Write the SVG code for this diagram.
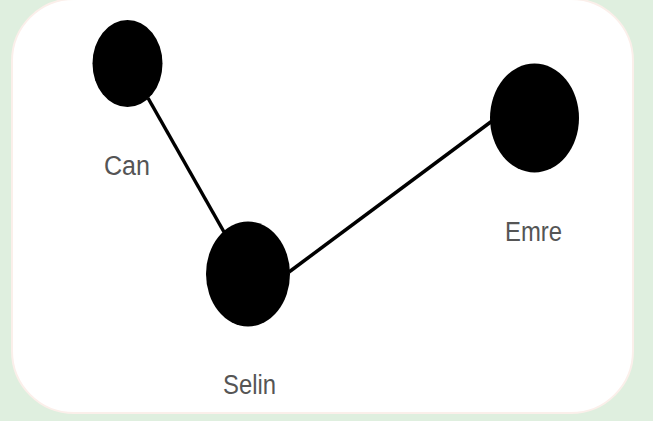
<svg xmlns="http://www.w3.org/2000/svg" width="653" height="421" viewBox="0 0 653 421">
  <style>
    .node { fill: #000000; }
    .edge { stroke: #000000; stroke-width: 3.5; fill: none; }
    .label { font-family: "Liberation Sans", Arial, sans-serif; font-size: 27px; fill: #555555; }
  </style>
  <rect x="0" y="0" width="653" height="421" fill="#dfefdf"/>
  <rect x="12" y="-1" width="621" height="414" rx="62" ry="62" fill="#ffffff" stroke="#fbefea" stroke-width="2"/>
  <g id="connectors">
    <line class="edge" x1="148" y1="98" x2="224" y2="232"/>
    <line class="edge" x1="289" y1="272" x2="492" y2="121"/>
  </g>
  <g id="node-can">
    <ellipse class="node" cx="127.5" cy="63.5" rx="35" ry="43.5"/>
    <text class="label" x="104" y="175" textLength="46" lengthAdjust="spacingAndGlyphs">Can</text>
  </g>
  <g id="node-selin">
    <ellipse class="node" cx="248" cy="274" rx="42" ry="52.5"/>
    <text class="label" x="223" y="394" textLength="53" lengthAdjust="spacingAndGlyphs">Selin</text>
  </g>
  <g id="node-emre">
    <ellipse class="node" cx="534.5" cy="118" rx="44.5" ry="54.5"/>
    <text class="label" x="505" y="241" textLength="57" lengthAdjust="spacingAndGlyphs">Emre</text>
  </g>
</svg>
